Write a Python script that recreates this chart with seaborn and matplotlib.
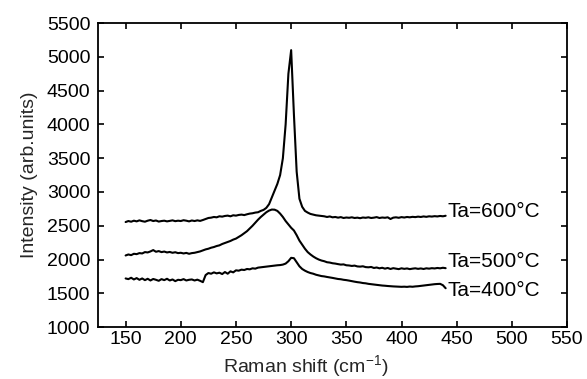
import numpy as np
import pandas as pd
import matplotlib
matplotlib.use("Agg")
import matplotlib.pyplot as plt
import seaborn as sns

shift = [150, 152.5, 155, 157.5, 160, 162.5, 165, 167.5, 170, 172.5,
         175, 177.5, 180, 182.5, 185, 187.5, 190, 192.5, 195, 197.5,
         200, 202.5, 205, 207.5, 210, 212.5, 215, 217.5, 220, 222.5,
         225, 227.5, 230, 232.5, 235, 237.5, 240, 242.5, 245, 247.5,
         250, 252.5, 255, 257.5, 260, 262.5, 265, 267.5, 270, 272.5,
         275, 277.5, 280, 282.5, 285, 287.5, 290, 292.5, 295, 297.5,
         300, 302.5, 305, 307.5, 310, 312.5, 315, 317.5, 320, 322.5,
         325, 327.5, 330, 332.5, 335, 337.5, 340, 342.5, 345, 347.5,
         350, 352.5, 355, 357.5, 360, 362.5, 365, 367.5, 370, 372.5,
         375, 377.5, 380, 382.5, 385, 387.5, 390, 392.5, 395, 397.5,
         400, 402.5, 405, 407.5, 410, 412.5, 415, 417.5, 420, 422.5,
         425, 427.5, 430, 432.5, 435, 437.5, 440]

int_600 = [2555, 2570, 2560, 2575, 2565, 2580, 2568, 2560, 2575, 2585,
           2570, 2578, 2562, 2570, 2575, 2565, 2572, 2580, 2568, 2575,
           2570, 2582, 2575, 2565, 2578, 2570, 2580, 2572, 2585, 2600,
           2615, 2620, 2630, 2625, 2640, 2635, 2645, 2650, 2640, 2655,
           2650, 2660, 2665, 2658, 2670, 2680, 2685, 2695, 2700, 2720,
           2735, 2765, 2820, 2920, 3020, 3120, 3250, 3500, 4000, 4750,
           5100, 4150, 3300, 2900, 2780, 2720, 2695, 2675, 2665, 2655,
           2650, 2645, 2640, 2630, 2638, 2625, 2630, 2620, 2628, 2615,
           2622, 2618, 2625, 2615, 2620, 2612, 2622, 2618, 2625, 2615,
           2620, 2628, 2615, 2622, 2618, 2625, 2600, 2620, 2625, 2618,
           2628, 2622, 2630, 2625, 2632, 2628, 2635, 2630, 2638, 2632,
           2640, 2636, 2642, 2638, 2645, 2640, 2648]

int_500 = [2060, 2075, 2065, 2085, 2080, 2095, 2090, 2110, 2105, 2120,
           2140, 2115, 2125, 2110, 2118, 2105, 2112, 2100, 2108, 2095,
           2100, 2090, 2098, 2085, 2095, 2100, 2110, 2120, 2135, 2150,
           2160, 2175, 2185, 2200, 2210, 2230, 2245, 2260, 2275, 2295,
           2310, 2335, 2360, 2390, 2420, 2460, 2500, 2545, 2590, 2630,
           2665, 2700, 2725, 2740, 2738, 2720, 2680, 2630, 2570, 2520,
           2470, 2430, 2360, 2280, 2220, 2160, 2110, 2075, 2045, 2020,
           2000, 1985, 1975, 1960, 1955, 1945, 1940, 1932, 1925, 1928,
           1915, 1912, 1905, 1910, 1898, 1895, 1900, 1888, 1885, 1890,
           1875, 1882, 1870, 1878, 1865, 1875, 1860, 1872, 1865, 1858,
           1870, 1862, 1868, 1858, 1865, 1870, 1862, 1868, 1860, 1870,
           1865, 1872, 1868, 1875, 1870, 1878, 1872]

int_400 = [1720, 1710, 1730, 1705, 1725, 1700, 1720, 1695, 1715, 1690,
           1712, 1700, 1685, 1710, 1695, 1715, 1690, 1705, 1680, 1700,
           1695, 1710, 1690, 1700, 1705, 1690, 1702, 1685, 1665, 1770,
           1800, 1790, 1810, 1795, 1805, 1785, 1815, 1790, 1825, 1810,
           1840, 1835, 1850, 1845, 1860, 1855, 1870, 1865, 1880, 1885,
           1890, 1895, 1900, 1905, 1910, 1915, 1918, 1925, 1940, 1975,
           2025, 2020, 1960, 1900, 1860, 1835, 1815, 1800, 1790, 1775,
           1765, 1755, 1750, 1742, 1735, 1728, 1720, 1712, 1708, 1700,
           1695, 1688, 1680, 1672, 1665, 1660, 1652, 1648, 1640, 1635,
           1630, 1625, 1620, 1615, 1612, 1608, 1605, 1602, 1600, 1598,
           1596, 1598, 1595, 1600, 1597, 1602, 1605, 1610, 1615, 1620,
           1625, 1630, 1635, 1638, 1640, 1620, 1575]

labels = ["Ta=600°C", "Ta=500°C", "Ta=400°C"]
label_y = [2707, 1967, 1548]
x_ticks = [150, 200, 250, 300, 350, 400, 450, 500, 550]
y_ticks = [1000, 1500, 2000, 2500, 3000, 3500, 4000, 4500, 5000, 5500]

sns.set_style("ticks")
plt.rcParams['font.family'] = ['Liberation Sans', 'DejaVu Sans']
plt.rcParams['mathtext.default'] = 'regular'

fig = plt.figure(figsize=(5.87, 3.79), dpi=100)
ax = fig.add_axes([0.167, 0.137, 0.799, 0.802])

for ys in [int_600, int_500, int_400]:
    df = pd.DataFrame({"shift": shift, "intensity": ys})
    sns.lineplot(data=df, x="shift", y="intensity", ax=ax, color="black",
                 linewidth=1.5, estimator=None, sort=False)

for lab, ly in zip(labels, label_y):
    ax.text(442, ly, lab, fontsize=15, va="center", ha="left", color="black")

ax.set_xlim(125, 550)
ax.set_ylim(1000, 5500)
ax.set_xticks(x_ticks)
ax.set_yticks(y_ticks)
ax.tick_params(direction="in", top=True, right=True, length=4, width=1.2,
               labelsize=14, colors="black")
ax.tick_params(axis="x", pad=2.5)
ax.tick_params(axis="y", pad=5.5)
for s in ax.spines.values():
    s.set_visible(True)
    s.set_linewidth(1.3)
    s.set_color("black")
ax.set_xlabel("Raman shift (cm$^{-1}$)", fontsize=14, labelpad=1)
ax.xaxis.set_label_coords(0.443, -0.085)
ax.set_ylabel("Intensity (arb.units)", fontsize=14, labelpad=6)

fig.savefig("out.png", dpi=100)
